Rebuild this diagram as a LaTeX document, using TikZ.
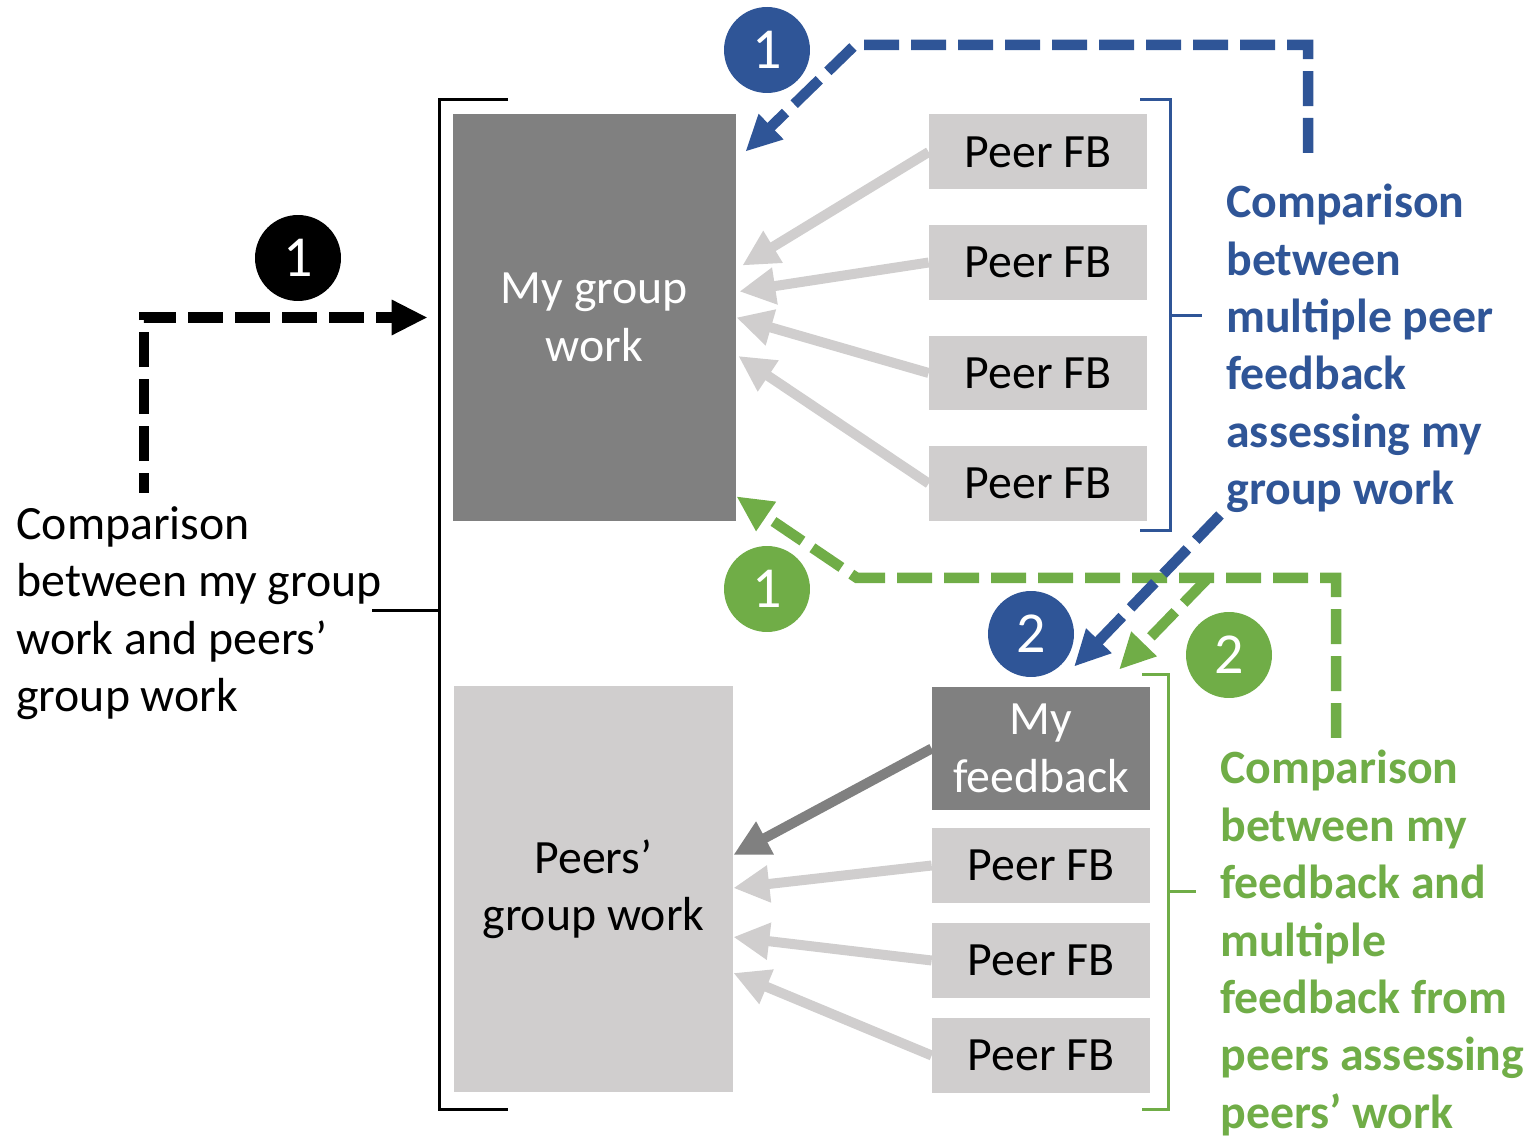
\documentclass[tikz,border=0pt]{standalone}
\usepackage{fontspec}
\setmainfont{Carlito}
\usetikzlibrary{arrows.meta}
\definecolor{fbblue}{HTML}{2F5597}
\definecolor{fbgreen}{HTML}{70AD47}
\definecolor{darkbox}{HTML}{808080}
\definecolor{lightbox}{HTML}{D0CECE}
\begin{document}
\begin{tikzpicture}[x=0.02cm, y=-0.02cm,
  every node/.style={font=\fontsize{27.2}{32.7}\selectfont},
  workbox/.style={rectangle, inner sep=0pt, align=center},
  fbbox/.style={rectangle, fill=lightbox, minimum width=4.36cm, minimum height=1.5cm, inner sep=0pt},
  numcirc/.style={circle, minimum size=1.72cm, inner sep=0pt, text=white, font=\fontsize{33}{38}\selectfont},
  fbarrow/.style={line width=0.2cm, -{Triangle[length=0.72cm,width=0.7cm]}},
  cmparrow/.style={line width=0.21cm, dash pattern=on 0.7cm off 0.24cm, -{Triangle[length=0.72cm,width=0.66cm]}},
  brack/.style={line width=0.06cm},
  note/.style={anchor=west, align=left, inner sep=0pt}]
  \useasboundingbox (0,0) rectangle (1532,1141);
  \node[workbox, fill=darkbox, text=white, minimum width=5.66cm, minimum height=8.14cm] (mygw) at (594.5,317.5) {My group\\work};
  \node[workbox, fill=lightbox, minimum width=5.58cm, minimum height=8.12cm] (peersgw) at (593.5,889) {Peers’\\group work};
  \foreach \i/\y in {1/152,2/262.5,3/373,4/483.5} \node[fbbox] (fb\i) at (1038,\y) {Peer FB};
  \node[fbbox, fill=darkbox, text=white, minimum height=2.46cm, align=center] (myfb) at (1041,748.5) {My\\feedback};
  \foreach \i/\y in {5/865.5,6/960.5,7/1055.5} \node[fbbox] (fb\i) at (1041,\y) {Peer FB};
  \draw[brack] (508,100) -- (439,100) -- (439,1109) -- (508,1109);
  \draw[brack] (372,611) -- (439,611);
  \draw[brack, fbblue] (1140,100) -- (1170,100) -- (1170,531) -- (1140,531) (1170,316) -- (1202,316);
  \draw[brack, fbgreen] (1142,675) -- (1168,675) -- (1168,1109) -- (1142,1109) (1168,891) -- (1196,891);
  \node[note] (cmpk) at (16,613) {Comparison\\between my group\\work and peers’\\group work};
  \node[note, text=fbblue, font=\bfseries\fontsize{27.2}{32.7}\selectfont] (cmpb) at (1226,348.5) {Comparison\\between\\multiple peer\\feedback\\assessing my\\group work};
  \node[note, text=fbgreen, font=\bfseries\fontsize{27.2}{32.7}\selectfont] (cmpg) at (1220,943) {Comparison\\between my\\feedback and\\multiple\\feedback from\\peers assessing\\peers’ work};
  \foreach \i/\x/\s in {1/0.12/1.04,2/0.06/0.52,3/0/0,4/0.04/-0.77} \draw[fbarrow, lightbox] (fb\i.west) -- ([xshift=\x cm,yshift=\s cm]mygw.east);
  \draw[fbarrow, darkbox] (myfb.west) -- ([yshift=0.68cm]peersgw.east);
  \foreach \i/\s in {5/0.02,6/-0.96,7/-1.68} \draw[fbarrow, lightbox] (fb\i.west) -- ([yshift=\s cm]peersgw.east);
  \coordinate (k0) at (144,493);
  \coordinate (b0) at (1308,153);
  \coordinate (b1) at (855,45);
  \coordinate (b2) at (1220,515);
  \coordinate (g0) at (1336,738);
  \coordinate (g1) at (857,578);
  \coordinate (g2) at (1208,578);
  \draw[cmparrow, dash phase=0.3cm] (k0) |- ([xshift=-0.5cm]mygw.west);
  \draw[cmparrow, fbgreen] (g0) |- (g1) -- ([yshift=0.5cm]mygw.south east);
  \draw[cmparrow, fbgreen] (g2) -- ([shift={(1.56cm,0.34cm)}]myfb.north);
  \draw[cmparrow, fbblue] (b0) |- (b1) -- ([shift={(0.18cm,-0.76cm)}]mygw.north east);
  \draw[cmparrow, fbblue] (b2) -- ([shift={(0.66cm,0.4cm)}]myfb.north);
  \node[numcirc, fill=black] (n1k) at (298,258) {1};
  \node[numcirc, fill=fbblue] (n1b) at (767,50) {1};
  \node[numcirc, fill=fbgreen] (n1g) at (767,589) {1};
  \node[numcirc, fill=fbblue] (n2b) at (1031,634) {2};
  \node[numcirc, fill=fbgreen] (n2g) at (1229,655) {2};
\end{tikzpicture}
\end{document}
